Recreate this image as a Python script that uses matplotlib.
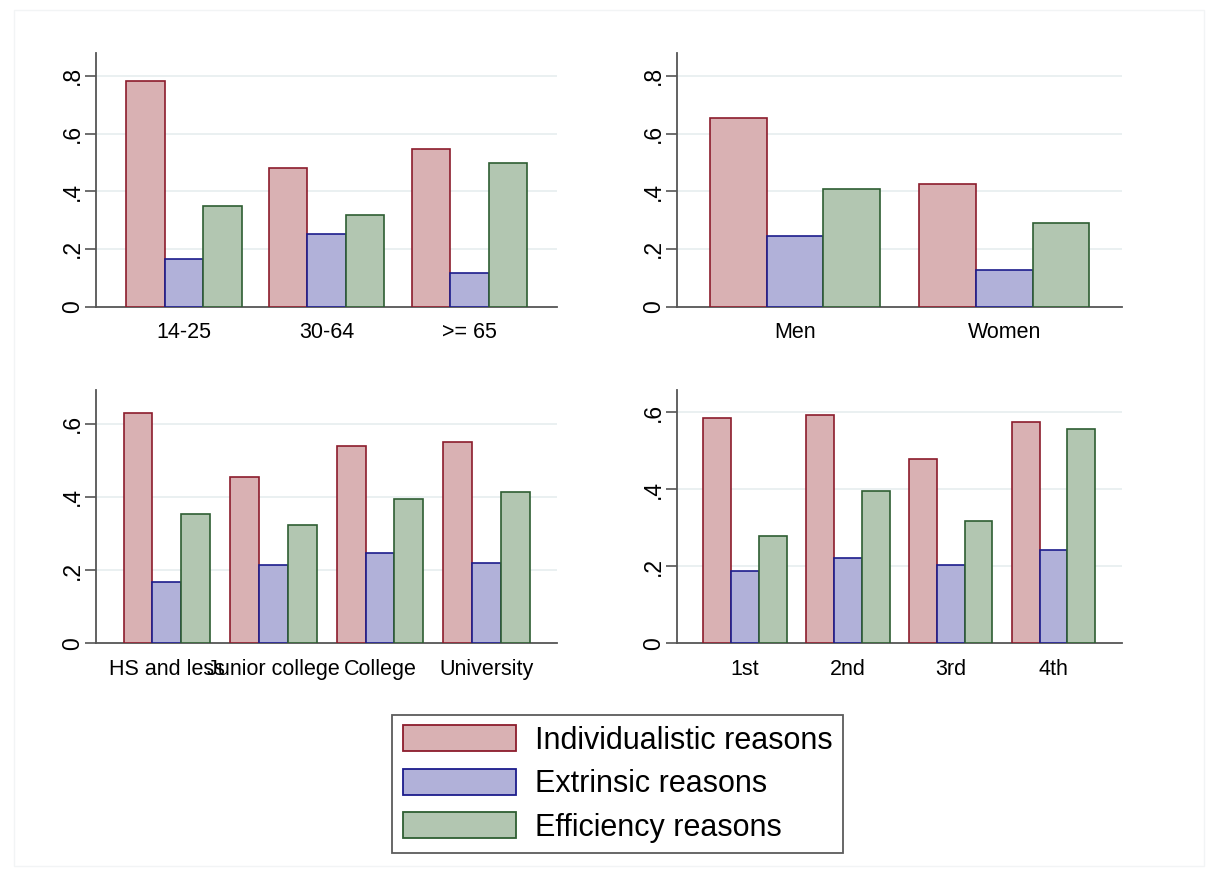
import numpy as np
import matplotlib.pyplot as plt
from matplotlib.patches import Patch, Rectangle

plt.rcParams['font.family'] = ['Liberation Sans', 'DejaVu Sans']

series = ["Individualistic reasons", "Extrinsic reasons", "Efficiency reasons"]
fills = ["#d9b1b3", "#b1b1d9", "#b2c6b1"]
edges = ["#8c1c2c", "#1c1c8c", "#2e5e32"]

# share of respondents by group
age_labels = ["14-25", "30-64", ">= 65"]
age_indiv = [0.783, 0.480, 0.546]
age_extr = [0.164, 0.252, 0.116]
age_eff = [0.349, 0.318, 0.498]

sex_labels = ["Men", "Women"]
sex_indiv = [0.653, 0.426]
sex_extr = [0.246, 0.126]
sex_eff = [0.407, 0.289]

edu_labels = ["HS and less", "Junior college", "College", "University"]
edu_indiv = [0.629, 0.455, 0.539, 0.549]
edu_extr = [0.168, 0.215, 0.248, 0.219]
edu_eff = [0.354, 0.322, 0.393, 0.414]

q_labels = ["1st", "2nd", "3rd", "4th"]
q_indiv = [0.585, 0.592, 0.478, 0.576]
q_extr = [0.187, 0.222, 0.204, 0.243]
q_eff = [0.279, 0.395, 0.318, 0.556]

W, H = 1215, 876
fig = plt.figure(figsize=(W / 100, H / 100), dpi=100)


def px_axes(l, t, r, b):
    return fig.add_axes([l / W, 1 - b / H, (r - l) / W, (b - t) / H])


def panel(ax, labels, vals, ymax, yticks, xlim):
    x = np.arange(len(labels))
    bw = 0.27
    for i, v in enumerate(vals):
        ax.bar(x + (i - 1) * bw, v, bw, color=fills[i], edgecolor=edges[i],
               linewidth=1.2, zorder=3)
    ax.set_xlim(*xlim)
    ax.set_ylim(0, ymax)
    ax.set_xticks(x)
    ax.set_xticklabels(labels, fontsize=15.5)
    ax.tick_params(axis='x', length=0, pad=11)
    ax.set_yticks(yticks)
    ax.set_yticklabels(["0"] + [("%.1f" % t)[1:] for t in yticks[1:]],
                       fontsize=16.5, rotation=90, va='center')
    ax.tick_params(axis='y', length=8, width=1.2, color="#555555", pad=0.5)
    for t in yticks[1:]:
        ax.axhline(t, color="#e6edef", linewidth=1.2, zorder=1)
    for s in ['top', 'right']:
        ax.spines[s].set_visible(False)
    for s in ['left', 'bottom']:
        ax.spines[s].set_color("#555555")
        ax.spines[s].set_linewidth(1.3)


ax1 = px_axes(96, 53, 557, 306.7)
panel(ax1, age_labels, [age_indiv, age_extr, age_eff], 0.879,
      [0, 0.2, 0.4, 0.6, 0.8], (-0.615, 2.613))

ax2 = px_axes(677, 53, 1122, 306.7)
panel(ax2, sex_labels, [sex_indiv, sex_extr, sex_eff], 0.879,
      [0, 0.2, 0.4, 0.6, 0.8], (-0.563, 1.562))

ax3 = px_axes(96, 390, 557, 643.3)
panel(ax3, edu_labels, [edu_indiv, edu_extr, edu_eff], 0.692,
      [0, 0.2, 0.4, 0.6], (-0.665, 3.661))

ax4 = px_axes(677, 390, 1122, 643.3)
panel(ax4, q_labels, [q_indiv, q_extr, q_eff], 0.658,
      [0, 0.2, 0.4, 0.6], (-0.662, 3.665))

# faint frame round the plot region
fig.patches.append(Rectangle((14 / W, 1 - 866 / H), 1190 / W, 856 / H,
                             transform=fig.transFigure, fill=False,
                             edgecolor="#f2f4f5", linewidth=1))

handles = [Patch(facecolor=fills[i], edgecolor=edges[i], linewidth=1.3)
           for i in range(3)]
leg = fig.legend(handles, series, loc='center',
                 bbox_to_anchor=(617.5 / W, 1 - 784 / H), fontsize=22,
                 frameon=True, fancybox=False, handlelength=3.7,
                 handleheight=0.92, handletextpad=0.62, labelspacing=0.43,
                 borderpad=0.34, borderaxespad=0)
leg.get_frame().set_edgecolor("#333333")
leg.get_frame().set_linewidth(1.3)

fig.savefig("out.png", dpi=100, facecolor="white")
